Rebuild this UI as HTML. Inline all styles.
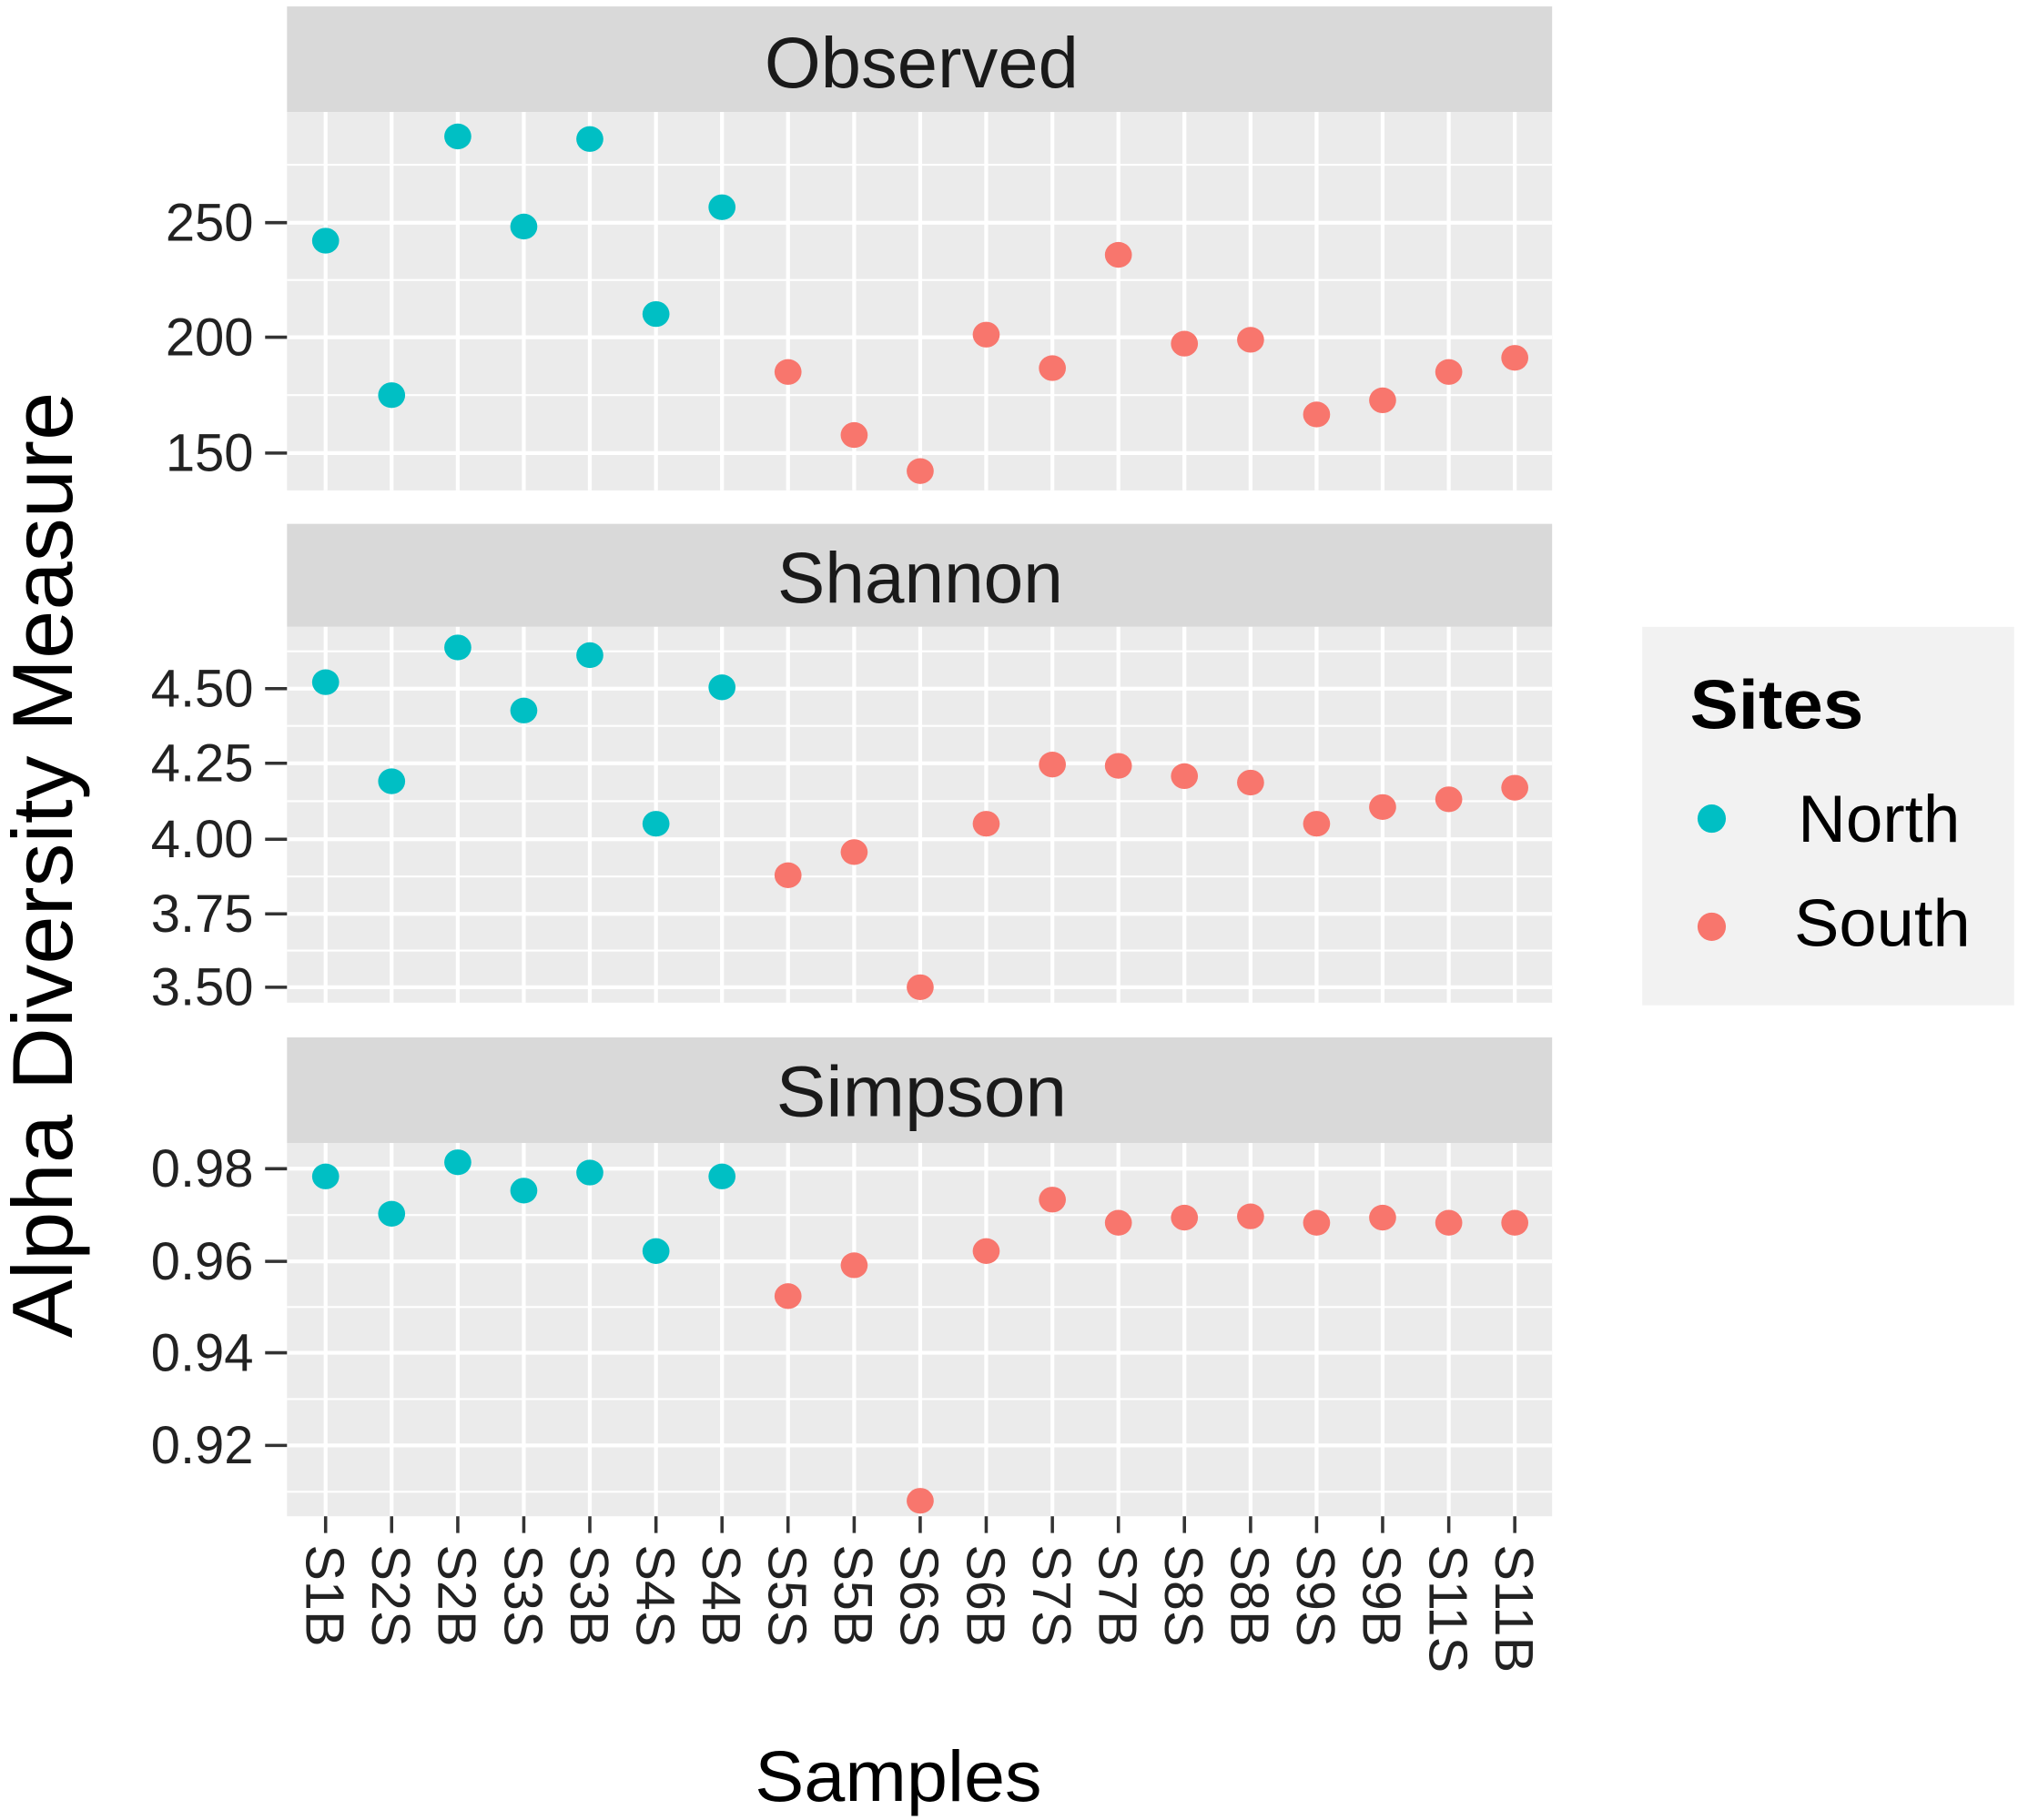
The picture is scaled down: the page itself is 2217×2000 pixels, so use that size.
<!DOCTYPE html>
<html><head><meta charset="utf-8"><style>
html,body{margin:0;padding:0;background:#fff;}
svg{display:block;}
text{font-family:"Liberation Sans",Arial,sans-serif;}
</style></head><body>
<svg width="2217" height="2000" viewBox="0 0 1568 1414" preserveAspectRatio="none" xmlns="http://www.w3.org/2000/svg">
<rect width="1568" height="1414" fill="#fff"/>
<rect x="223" y="5" width="983" height="82" fill="#D9D9D9"/>
<rect x="223" y="407" width="983" height="80" fill="#D9D9D9"/>
<rect x="223" y="806" width="983" height="82" fill="#D9D9D9"/>
<g font-size="56" text-anchor="middle" fill="#1a1a1a">
<text x="716" y="68" textLength="244" lengthAdjust="spacingAndGlyphs">Observed</text>
<text x="715" y="468" textLength="222" lengthAdjust="spacingAndGlyphs">Shannon</text>
<text x="716" y="867" textLength="226" lengthAdjust="spacingAndGlyphs">Simpson</text>
</g>
<rect x="223" y="87" width="983" height="294" fill="#EBEBEB"/>
<rect x="223" y="487" width="983" height="292" fill="#EBEBEB"/>
<rect x="223" y="888" width="983" height="290" fill="#EBEBEB"/>
<g stroke="#fff" stroke-width="1.5">
<line x1="223" x2="1206" y1="128" y2="128"/><line x1="223" x2="1206" y1="217.5" y2="217.5"/><line x1="223" x2="1206" y1="307" y2="307"/>
<line x1="223" x2="1206" y1="506" y2="506"/><line x1="223" x2="1206" y1="564" y2="564"/><line x1="223" x2="1206" y1="622.5" y2="622.5"/><line x1="223" x2="1206" y1="681" y2="681"/><line x1="223" x2="1206" y1="738.5" y2="738.5"/>
<line x1="223" x2="1206" y1="944" y2="944"/><line x1="223" x2="1206" y1="1015.5" y2="1015.5"/><line x1="223" x2="1206" y1="1087" y2="1087"/><line x1="223" x2="1206" y1="1159" y2="1159"/>
</g>
<g stroke="#fff" stroke-width="3">
<line x1="223" x2="1206" y1="173" y2="173"/><line x1="223" x2="1206" y1="262" y2="262"/><line x1="223" x2="1206" y1="352" y2="352"/>
<line x1="223" x2="1206" y1="535" y2="535"/><line x1="223" x2="1206" y1="593" y2="593"/><line x1="223" x2="1206" y1="652" y2="652"/><line x1="223" x2="1206" y1="710" y2="710"/><line x1="223" x2="1206" y1="767" y2="767"/>
<line x1="223" x2="1206" y1="908" y2="908"/><line x1="223" x2="1206" y1="980" y2="980"/><line x1="223" x2="1206" y1="1051" y2="1051"/><line x1="223" x2="1206" y1="1123" y2="1123"/>
</g>
<g stroke="#fff" stroke-width="3">
<path d="M253 87V381M304.3 87V381M355.7 87V381M407 87V381M458.3 87V381M509.7 87V381M561 87V381M612.3 87V381M663.7 87V381M715 87V381M766.3 87V381M817.7 87V381M869 87V381M920.3 87V381M971.7 87V381M1023 87V381M1074.3 87V381M1125.7 87V381M1177 87V381"/>
<path d="M253 487V779M304.3 487V779M355.7 487V779M407 487V779M458.3 487V779M509.7 487V779M561 487V779M612.3 487V779M663.7 487V779M715 487V779M766.3 487V779M817.7 487V779M869 487V779M920.3 487V779M971.7 487V779M1023 487V779M1074.3 487V779M1125.7 487V779M1177 487V779"/>
<path d="M253 888V1178M304.3 888V1178M355.7 888V1178M407 888V1178M458.3 888V1178M509.7 888V1178M561 888V1178M612.3 888V1178M663.7 888V1178M715 888V1178M766.3 888V1178M817.7 888V1178M869 888V1178M920.3 888V1178M971.7 888V1178M1023 888V1178M1074.3 888V1178M1125.7 888V1178M1177 888V1178"/>
</g>
<g stroke="#333" stroke-width="2.5">
<path d="M206 173H223M206 262H223M206 352H223M206 535H223M206 593H223M206 652H223M206 710H223M206 767H223M206 908H223M206 980H223M206 1051H223M206 1123H223"/>
<path d="M253 1178V1191M304.3 1178V1191M355.7 1178V1191M407 1178V1191M458.3 1178V1191M509.7 1178V1191M561 1178V1191M612.3 1178V1191M663.7 1178V1191M715 1178V1191M766.3 1178V1191M817.7 1178V1191M869 1178V1191M920.3 1178V1191M971.7 1178V1191M1023 1178V1191M1074.3 1178V1191M1125.7 1178V1191M1177 1178V1191"/>
</g>
<g font-size="41" text-anchor="end" fill="#222">
<text x="197" y="187">250</text><text x="197" y="276">200</text><text x="197" y="366">150</text>
<text x="197" y="549">4.50</text><text x="197" y="607">4.25</text><text x="197" y="666">4.00</text><text x="197" y="724">3.75</text><text x="197" y="781">3.50</text>
<text x="197" y="922">0.98</text><text x="197" y="994">0.96</text><text x="197" y="1065">0.94</text><text x="197" y="1137">0.92</text>
</g>
<g font-size="42" fill="#222">
<text transform="translate(238,1200) rotate(90)">S1B</text>
<text transform="translate(289.3,1200) rotate(90)">S2S</text>
<text transform="translate(340.7,1200) rotate(90)">S2B</text>
<text transform="translate(392,1200) rotate(90)">S3S</text>
<text transform="translate(443.3,1200) rotate(90)">S3B</text>
<text transform="translate(494.7,1200) rotate(90)">S4S</text>
<text transform="translate(546,1200) rotate(90)">S4B</text>
<text transform="translate(597.3,1200) rotate(90)">S5S</text>
<text transform="translate(648.7,1200) rotate(90)">S5B</text>
<text transform="translate(700,1200) rotate(90)">S6S</text>
<text transform="translate(751.3,1200) rotate(90)">S6B</text>
<text transform="translate(802.7,1200) rotate(90)">S7S</text>
<text transform="translate(854,1200) rotate(90)">S7B</text>
<text transform="translate(905.3,1200) rotate(90)">S8S</text>
<text transform="translate(956.7,1200) rotate(90)">S8B</text>
<text transform="translate(1008,1200) rotate(90)">S9S</text>
<text transform="translate(1059.3,1200) rotate(90)">S9B</text>
<text transform="translate(1110.7,1200) rotate(90)">S11S</text>
<text transform="translate(1162,1200) rotate(90)">S11B</text>
</g>
<text x="698" y="1399" font-size="56" text-anchor="middle" fill="#000" textLength="223" lengthAdjust="spacingAndGlyphs">Samples</text>
<text transform="translate(56,672) rotate(-90)" font-size="66" text-anchor="middle" fill="#000" textLength="735" lengthAdjust="spacingAndGlyphs">Alpha Diversity Measure</text>
<g fill="#00BFC4">
<ellipse cx="253" cy="187" rx="10.5" ry="10"/><ellipse cx="304.3" cy="307" rx="10.5" ry="10"/><ellipse cx="355.7" cy="106" rx="10.5" ry="10"/><ellipse cx="407" cy="176" rx="10.5" ry="10"/><ellipse cx="458.3" cy="108" rx="10.5" ry="10"/><ellipse cx="509.7" cy="244" rx="10.5" ry="10"/><ellipse cx="561" cy="161" rx="10.5" ry="10"/>
<ellipse cx="253" cy="530" rx="10.5" ry="10"/><ellipse cx="304.3" cy="607" rx="10.5" ry="10"/><ellipse cx="355.7" cy="503" rx="10.5" ry="10"/><ellipse cx="407" cy="552" rx="10.5" ry="10"/><ellipse cx="458.3" cy="509" rx="10.5" ry="10"/><ellipse cx="509.7" cy="640" rx="10.5" ry="10"/><ellipse cx="561" cy="534" rx="10.5" ry="10"/>
<ellipse cx="253" cy="914" rx="10.5" ry="10"/><ellipse cx="304.3" cy="943" rx="10.5" ry="10"/><ellipse cx="355.7" cy="903" rx="10.5" ry="10"/><ellipse cx="407" cy="925" rx="10.5" ry="10"/><ellipse cx="458.3" cy="911" rx="10.5" ry="10"/><ellipse cx="509.7" cy="972" rx="10.5" ry="10"/><ellipse cx="561" cy="914" rx="10.5" ry="10"/>
</g>
<g fill="#F8766D">
<ellipse cx="612.3" cy="289" rx="10.5" ry="10"/><ellipse cx="663.7" cy="338" rx="10.5" ry="10"/><ellipse cx="715" cy="366" rx="10.5" ry="10"/><ellipse cx="766.3" cy="260" rx="10.5" ry="10"/><ellipse cx="817.7" cy="286" rx="10.5" ry="10"/><ellipse cx="869" cy="198" rx="10.5" ry="10"/><ellipse cx="920.3" cy="267" rx="10.5" ry="10"/><ellipse cx="971.7" cy="264" rx="10.5" ry="10"/><ellipse cx="1023" cy="322" rx="10.5" ry="10"/><ellipse cx="1074.3" cy="311" rx="10.5" ry="10"/><ellipse cx="1125.7" cy="289" rx="10.5" ry="10"/><ellipse cx="1177" cy="278" rx="10.5" ry="10"/>
<ellipse cx="612.3" cy="680" rx="10.5" ry="10"/><ellipse cx="663.7" cy="662" rx="10.5" ry="10"/><ellipse cx="715" cy="767" rx="10.5" ry="10"/><ellipse cx="766.3" cy="640" rx="10.5" ry="10"/><ellipse cx="817.7" cy="594" rx="10.5" ry="10"/><ellipse cx="869" cy="595" rx="10.5" ry="10"/><ellipse cx="920.3" cy="603" rx="10.5" ry="10"/><ellipse cx="971.7" cy="608" rx="10.5" ry="10"/><ellipse cx="1023" cy="640" rx="10.5" ry="10"/><ellipse cx="1074.3" cy="627" rx="10.5" ry="10"/><ellipse cx="1125.7" cy="621" rx="10.5" ry="10"/><ellipse cx="1177" cy="612" rx="10.5" ry="10"/>
<ellipse cx="612.3" cy="1007" rx="10.5" ry="10"/><ellipse cx="663.7" cy="983" rx="10.5" ry="10"/><ellipse cx="715" cy="1166" rx="10.5" ry="10"/><ellipse cx="766.3" cy="972" rx="10.5" ry="10"/><ellipse cx="817.7" cy="932" rx="10.5" ry="10"/><ellipse cx="869" cy="950" rx="10.5" ry="10"/><ellipse cx="920.3" cy="946" rx="10.5" ry="10"/><ellipse cx="971.7" cy="945" rx="10.5" ry="10"/><ellipse cx="1023" cy="950" rx="10.5" ry="10"/><ellipse cx="1074.3" cy="946" rx="10.5" ry="10"/><ellipse cx="1125.7" cy="950" rx="10.5" ry="10"/><ellipse cx="1177" cy="950" rx="10.5" ry="10"/>
</g>
<rect x="1276" y="487" width="289" height="294" fill="#F2F2F2"/>
<circle cx="1330" cy="636" r="11" fill="#00BFC4"/>
<circle cx="1330" cy="720" r="11" fill="#F8766D"/>
<text x="1313" y="566" font-size="54" font-weight="bold" fill="#000" textLength="135" lengthAdjust="spacingAndGlyphs">Sites</text>
<text x="1397" y="654" font-size="52" fill="#000" textLength="126" lengthAdjust="spacingAndGlyphs">North</text>
<text x="1394" y="735" font-size="52" fill="#000" textLength="137" lengthAdjust="spacingAndGlyphs">South</text>
</svg>
</body></html>
